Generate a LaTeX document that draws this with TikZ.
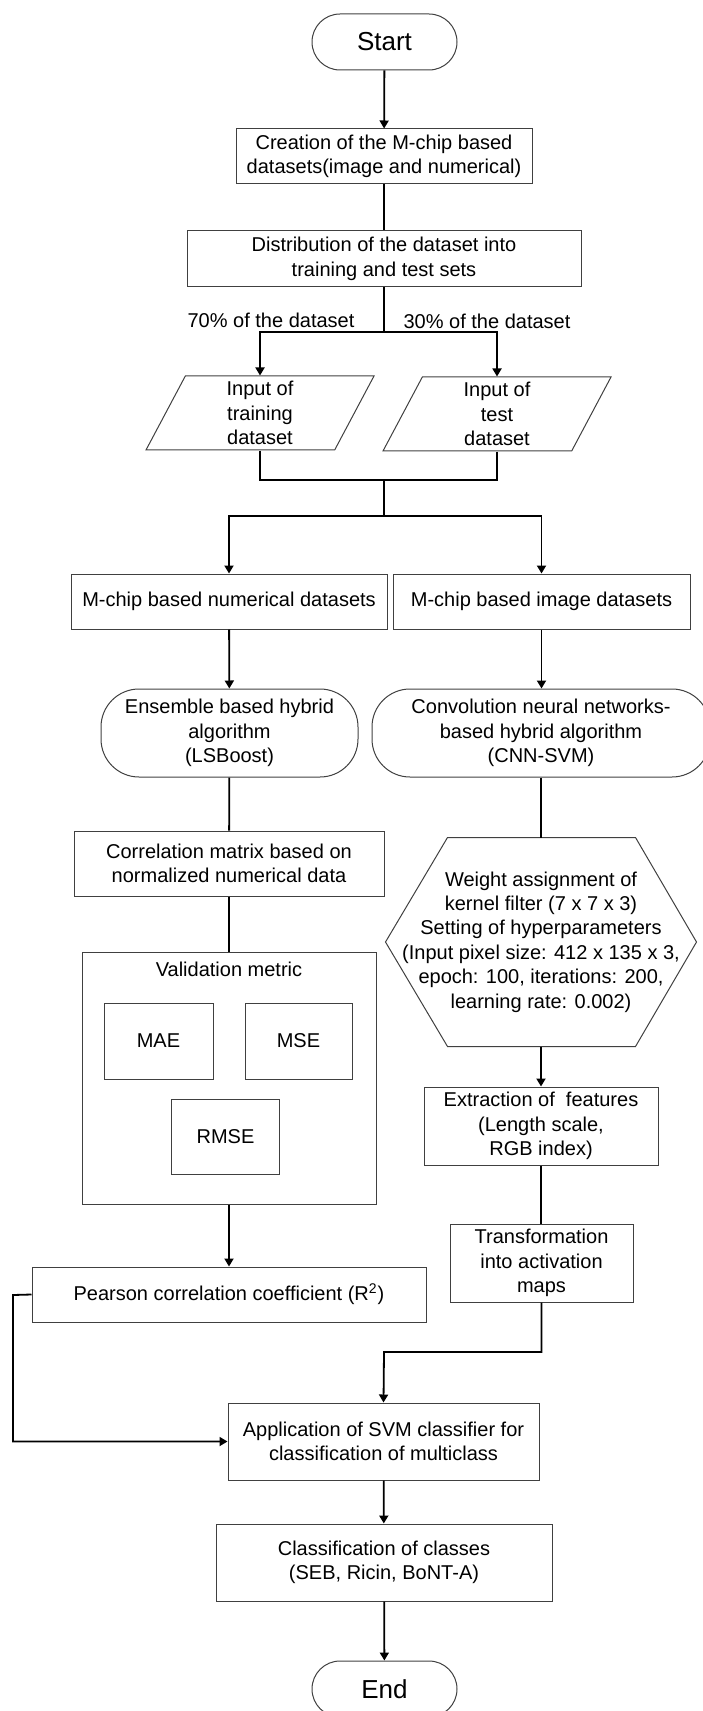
\documentclass[tikz,border=0pt]{standalone}
\usepackage{fontspec}
\setmainfont{Liberation Sans}
\usetikzlibrary{arrows.meta, shapes.geometric}
\tikzset{
    outl/.style={draw=black!75, line width=0.5pt},
    box/.style={outl, align=center, font=\fontsize{10}{12.2}\selectfont, inner sep=2pt},
    proc/.style={box, rectangle},
    term/.style={box, rounded corners=14pt, minimum width=72.5pt, minimum height=28pt, font=\fontsize{13}{15}\selectfont},
    algo/.style={box, rounded corners=19pt, minimum height=44pt},
    io/.style={box, trapezium, trapezium left angle=59, trapezium right angle=121, trapezium stretches body,
        minimum width=114pt, minimum height=37pt, inner sep=0.5pt},
    pct/.style={font=\fontsize{10}{12}\selectfont},
    link/.style={line width=0.9pt},
    flow/.style={link, -{Triangle[length=4pt,width=4.5pt]}}
}
\begin{document}
\begin{tikzpicture}[x=0.5pt, y=-0.5pt]
    \useasboundingbox (0,0) rectangle (702,1711);
    % top part
    \node[term] (start) at (384.5,42) {Start};
    \node[proc, minimum width=148pt, minimum height=27.5pt] (crea) at (384,156.5) {Creation of the M-chip based\\datasets(image and numerical)};
    \node[proc, minimum width=197pt, minimum height=28pt] (dist) at (384,259) {Distribution of the dataset into\\training and test sets};
    \node[pct] (p70) at (271,320) {70\% of the dataset};
    \node[pct] (p30) at (487,321) {30\% of the dataset};
    \coordinate (split) at (384,332);
    \node[io] (trn) at (260,413) {Input of\\training\\dataset};
    \node[io] (tst) at (497,414) {Input of\\test\\dataset};
    \coordinate (merge) at (384,480);
    \coordinate (fork) at (384,516);
    % two branches
    \node[proc, minimum width=158pt, minimum height=27.5pt] (num) at (229,601.5) {M-chip based numerical datasets};
    \node[proc, minimum width=148.5pt, minimum height=27.5pt] (img) at (541.5,601.5) {M-chip based image datasets};
    \node[algo, minimum width=128.5pt] (ens) at (229.5,733) {Ensemble based hybrid\\algorithm\\(LSBoost)};
    \node[algo, minimum width=169pt] (cnn) at (541,733) {Convolution neural networks-\\based hybrid algorithm\\(CNN-SVM)};
    \node[proc, minimum width=155pt, minimum height=32.5pt] (corr) at (229,863.5) {Correlation matrix based on\\normalized numerical data};
    \node[box, draw=none, minimum width=155pt, minimum height=104pt] (wgt) at (541,942)
        {Weight assignment of\\kernel filter (7 x 7 x 3)\\Setting of hyperparameters\\(Input pixel size: 412 x 135 x 3,\\epoch: 100, iterations: 200,\\learning rate: 0.002)};
    \draw[outl] (wgt.west) -- ([xshift=31pt]wgt.north west) -- ([xshift=-30.5pt]wgt.north east) -- (wgt.east)
        -- ([xshift=-30.5pt]wgt.south east) -- ([xshift=31pt]wgt.south west) -- cycle;
    \node[proc, minimum width=147pt, minimum height=126pt] (vbox) at (229,1078) {};
    \node[box, draw=none] (vtit) at (229,969) {Validation metric};
    \node[proc, minimum width=54.5pt, minimum height=38pt] (mae) at (158.5,1041) {MAE};
    \node[proc, minimum width=53.5pt, minimum height=38pt] (mse) at (298.5,1041) {MSE};
    \node[proc, minimum width=54pt, minimum height=37.5pt] (rmse) at (225.5,1136.5) {RMSE};
    \node[proc, minimum width=117pt, minimum height=39pt] (extr) at (541,1126) {Extraction of \ features\\(Length scale,\\RGB index)};
    \node[proc, minimum width=91.5pt, minimum height=39pt] (trf) at (541.5,1263) {Transformation\\into activation\\maps};
    \node[proc, minimum width=197pt, minimum height=27.5pt] (prs) at (229,1294.5) {Pearson correlation coefficient (R\textsuperscript{2})};
    \coordinate (lft) at (13,1295);
    \coordinate (jn) at (384,1352);
    % bottom part
    \node[proc, minimum width=155.5pt, minimum height=38.5pt] (app) at (383.5,1441.5) {Application of SVM classifier for\\classification of multiclass};
    \node[proc, minimum width=168pt, minimum height=38.5pt] (cls) at (384,1562.5) {Classification of classes\\(SEB, Ricin, BoNT-A)};
    \node[term] (stop) at (384.5,1689) {End};

    \draw[flow] (start) -- (crea);
    \draw[link] (crea) -- (dist);
    \draw[link] (dist) -- (split);
    \draw[flow] (split) -| (trn.north);
    \draw[flow] (split) -| (tst.north);
    \draw[link] (trn.south) |- (merge);
    \draw[link] (tst.south) |- (merge);
    \draw[link] (merge) -- (fork);
    \draw[flow] (fork) -| (num.north);
    \draw[flow] (fork) -| (img.north);
    \draw[flow] (num) -- (ens);
    \draw[flow] (img.south) -- (img.south |- cnn.north);
    \draw[link] (ens) -- (corr);
    \draw[link] (cnn.south) -- (wgt.north);
    \draw[link] (corr) -- (vbox);
    \draw[flow] (wgt.south) -- (extr.north);
    \draw[link] (extr.south) -- (extr.south |- trf.north);
    \draw[flow] (vbox) -- (prs);
    \draw[flow] (prs.west) -- (lft) |- (app.west);
    \draw[flow] (trf.south) |- (jn) -- (app.north);
    \draw[flow] (app) -- (cls);
    \draw[flow] (cls) -- (stop);
\end{tikzpicture}
\end{document}
